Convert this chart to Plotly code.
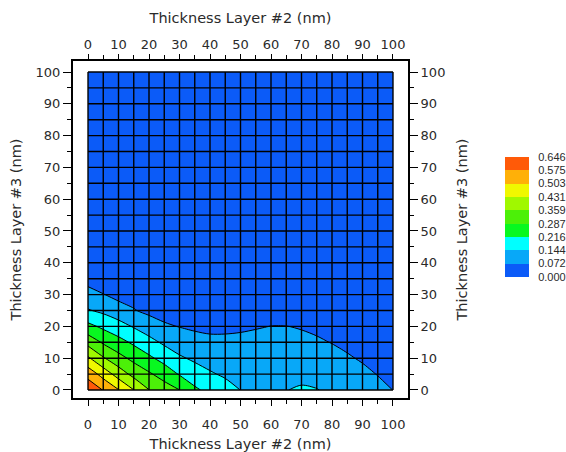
import plotly.graph_objects as go

# ---------------- data ----------------
x_nm = [0, 5, 10, 15, 20, 25, 30, 35, 40, 45, 50, 55, 60, 65, 70, 75, 80, 85, 90, 95, 100]
y_nm = [0, 5, 10, 15, 20, 25, 30, 35, 40, 50, 60, 70, 80, 90, 100]

z_y0 = [0.630, 0.571, 0.506, 0.432, 0.360, 0.323, 0.288, 0.228, 0.195, 0.170, 0.143, 0.137, 0.136, 0.142, 0.152, 0.146, 0.132, 0.118, 0.102, 0.088, 0.0715]
z_y5 = [0.548, 0.475, 0.399, 0.337, 0.297, 0.257, 0.210, 0.176, 0.151, 0.134, 0.124, 0.120, 0.120, 0.122, 0.125, 0.122, 0.112, 0.099, 0.085, 0.070, 0.058]
z_y10 = [0.442, 0.366, 0.311, 0.268, 0.229, 0.190, 0.153, 0.132, 0.118, 0.110, 0.105, 0.1035, 0.104, 0.105, 0.104, 0.100, 0.092, 0.078, 0.066, 0.056, 0.050]
z_y15 = [0.334, 0.278, 0.240, 0.203, 0.166, 0.132, 0.109, 0.095, 0.087, 0.085, 0.085, 0.087, 0.088, 0.089, 0.086, 0.080, 0.070, 0.060, 0.053, 0.048, 0.045]
z_y20 = [0.235, 0.201, 0.170, 0.138, 0.108, 0.080, 0.070, 0.062, 0.058, 0.060, 0.064, 0.0685, 0.0726, 0.0726, 0.068, 0.060, 0.055, 0.050, 0.046, 0.043, 0.041]
z_y25 = [0.149, 0.129, 0.104, 0.076, 0.056, 0.050, 0.052, 0.050, 0.048, 0.048, 0.050, 0.052, 0.053, 0.053, 0.050, 0.047, 0.045, 0.043, 0.041, 0.039, 0.038]
z_y30 = [0.097, 0.074, 0.050, 0.048, 0.046, 0.045, 0.044, 0.043, 0.042, 0.042, 0.043, 0.044, 0.044, 0.044, 0.043, 0.042, 0.041, 0.040, 0.038, 0.036, 0.035]
z_y35 = [0.047, 0.045, 0.044, 0.040, 0.038, 0.038, 0.038, 0.037, 0.037, 0.037, 0.038, 0.038, 0.038, 0.038, 0.037, 0.037, 0.036, 0.035, 0.034, 0.033, 0.032]
z_y40 = [0.040, 0.038, 0.037, 0.035, 0.034, 0.034, 0.034, 0.033, 0.033, 0.033, 0.034, 0.034, 0.034, 0.034, 0.033, 0.033, 0.032, 0.032, 0.031, 0.030, 0.030]
z_y50 = [0.034, 0.033, 0.032, 0.031, 0.030, 0.030, 0.030, 0.030, 0.030, 0.030, 0.030, 0.030, 0.030, 0.030, 0.030, 0.029, 0.029, 0.028, 0.028, 0.027, 0.027]
z_y60 = [0.030, 0.029, 0.028, 0.027, 0.027, 0.027, 0.027, 0.027, 0.027, 0.027, 0.027, 0.027, 0.027, 0.027, 0.027, 0.026, 0.026, 0.026, 0.025, 0.025, 0.025]
z_y70 = [0.027, 0.026, 0.025, 0.025, 0.025, 0.025, 0.025, 0.025, 0.025, 0.025, 0.025, 0.025, 0.025, 0.025, 0.025, 0.024, 0.024, 0.024, 0.024, 0.023, 0.023]
z_y80 = [0.024, 0.024, 0.023, 0.023, 0.023, 0.023, 0.023, 0.023, 0.023, 0.023, 0.023, 0.023, 0.023, 0.023, 0.023, 0.023, 0.022, 0.022, 0.022, 0.022, 0.022]
z_y90 = [0.021, 0.021, 0.021, 0.021, 0.021, 0.021, 0.021, 0.021, 0.021, 0.021, 0.021, 0.021, 0.021, 0.021, 0.021, 0.021, 0.021, 0.021, 0.020, 0.020, 0.020]
z_y100 = [0.019, 0.019, 0.019, 0.019, 0.019, 0.019, 0.019, 0.019, 0.019, 0.019, 0.019, 0.019, 0.019, 0.019, 0.019, 0.019, 0.019, 0.019, 0.019, 0.019, 0.019]

z_rows = [z_y0, z_y5, z_y10, z_y15, z_y20, z_y25, z_y30, z_y35, z_y40,
          z_y50, z_y60, z_y70, z_y80, z_y90, z_y100]

level_values = [0.000, 0.072, 0.144, 0.216, 0.287, 0.359, 0.431, 0.503, 0.575, 0.646]
level_labels = ["0.000", "0.072", "0.144", "0.216", "0.287", "0.359", "0.431", "0.503", "0.575", "0.646"]
band_colors = ["#0B5BF8", "#08A8F8", "#00FFFF", "#08F820", "#4CF008",
               "#A0F800", "#F0F800", "#FFB008", "#FF5A08"]

x_ticks = list(range(0, 101, 10))
y_ticks = list(range(0, 101, 10))
grid_step = 5

x_title = "Thickness Layer #2 (nm)"
y_title = "Thickness Layer #3 (nm)"

# ---------------- figure ----------------
W, H = 566, 452
nb = len(band_colors)
step = (level_values[-1] - level_values[0]) / nb

# contour colorscale: band k is sampled at k/(nb-1)
cscale = []
for k, c in enumerate(band_colors):
    lo = max(0.0, (k - 0.5) / (nb - 1))
    hi = min(1.0, (k + 0.5) / (nb - 1))
    cscale.append([lo, c])
    cscale.append([hi, c])

fig = go.Figure()
fig.add_trace(go.Contour(
    x=x_nm, y=y_nm, z=z_rows,
    autocontour=False,
    contours=dict(start=level_values[1], end=level_values[1] + step * (nb - 2),
                  size=step, coloring="fill", showlines=True),
    colorscale=cscale, showscale=False,
    line=dict(color="black", width=1, smoothing=0.9),
    hoverinfo="skip",
    xaxis="x", yaxis="y",
))

# grid lines over the map
gx, gy = [], []
x0, x1 = x_nm[0], x_nm[-1]
y0, y1 = y_nm[0], y_nm[-1]
for v in range(x0, x1 + 1, grid_step):
    gx += [v, v, None]
    gy += [y0, y1, None]
for v in range(y0, y1 + 1, grid_step):
    gx += [x0, x1, None]
    gy += [v, v, None]
fig.add_trace(go.Scatter(x=gx, y=gy, mode="lines",
                         line=dict(color="#000000", width=1.4),
                         hoverinfo="skip", xaxis="x2", yaxis="y2"))

# legend bar (discrete colour key)
bar_scale = []
for k, c in enumerate(band_colors):
    bar_scale.append([k / nb, c])
    bar_scale.append([(k + 1) / nb, c])
fig.add_trace(go.Heatmap(
    z=[[k] for k in range(nb)], x=[0, 1], y=level_values,
    colorscale=bar_scale, zmin=-0.5, zmax=nb - 0.5, showscale=False,
    hoverinfo="skip", xaxis="x3", yaxis="y3",
))

# ---------------- layout ----------------
frame_l, frame_r, frame_t, frame_b = 73, 408, 61, 398
xdom = [frame_l / W, frame_r / W]
ydom = [(H - frame_b) / H, (H - frame_t) / H]
xr = [-4.92, 104.92]
yr = [-2.52, 103.46]

bar_l, bar_r, bar_t, bar_b = 505, 529, 157, 277

tickfont = dict(family="DejaVu Sans", size=13, color="#2a2a2a")
titlefont = dict(family="DejaVu Sans", size=14.5, color="#2a2a2a")

def axis_common(ticklen):
    return dict(showgrid=False, zeroline=False, showline=True,
                linecolor="black", linewidth=2, mirror=False,
                ticks="outside", ticklen=ticklen, tickwidth=1, tickcolor="black",
                tickmode="array",
                minor=dict(ticks="outside", ticklen=4, dtick=grid_step, tick0=0,
                           tickcolor="black", tickwidth=1),
                tickfont=tickfont, automargin=False)

fig.update_layout(
    width=W, height=H,
    margin=dict(l=0, r=0, t=0, b=0),
    paper_bgcolor="white", plot_bgcolor="white",
    showlegend=False,
    xaxis=dict(domain=xdom, range=xr, anchor="y", side="bottom",
               tickvals=x_ticks, ticktext=[str(v) for v in x_ticks],
               ticklabelstandoff=7,
               title=dict(text=x_title, font=titlefont, standoff=9),
               **axis_common(6)),
    xaxis2=dict(domain=xdom, range=xr, anchor="y", side="top", overlaying="x",
                tickvals=x_ticks, ticktext=[str(v) for v in x_ticks],
                title=dict(text=x_title, font=titlefont, standoff=10),
                **axis_common(5)),
    yaxis=dict(domain=ydom, range=yr, anchor="x", side="left",
               tickvals=y_ticks, ticktext=[str(v) for v in y_ticks],
               title=dict(text=y_title, font=titlefont, standoff=10),
               **axis_common(8)),
    yaxis2=dict(domain=ydom, range=yr, anchor="x", side="right", overlaying="y",
                tickvals=y_ticks, ticktext=[str(v) for v in y_ticks],
                title=dict(text=y_title, font=titlefont, standoff=12),
                **axis_common(8)),
    xaxis3=dict(domain=[bar_l / W, bar_r / W], range=[0, 1], anchor="y3",
                visible=False, fixedrange=True),
    yaxis3=dict(domain=[(H - bar_b) / H, (H - bar_t) / H], anchor="x3",
                range=[level_values[0], level_values[-1]], side="right",
                tickmode="array", tickvals=level_values, ticktext=level_labels,
                showgrid=False, zeroline=False, showline=False,
                ticks="outside", ticklen=6, tickcolor="rgba(0,0,0,0)",
                tickfont=dict(family="Liberation Sans", size=11, color="#2a2a2a"),
                automargin=False),
)

fig.write_html("out.html",
               config={"displayModeBar": False, "staticPlot": True},
               post_script="document.body.style.margin='0';"
                           "document.body.style.overflow='hidden';")
